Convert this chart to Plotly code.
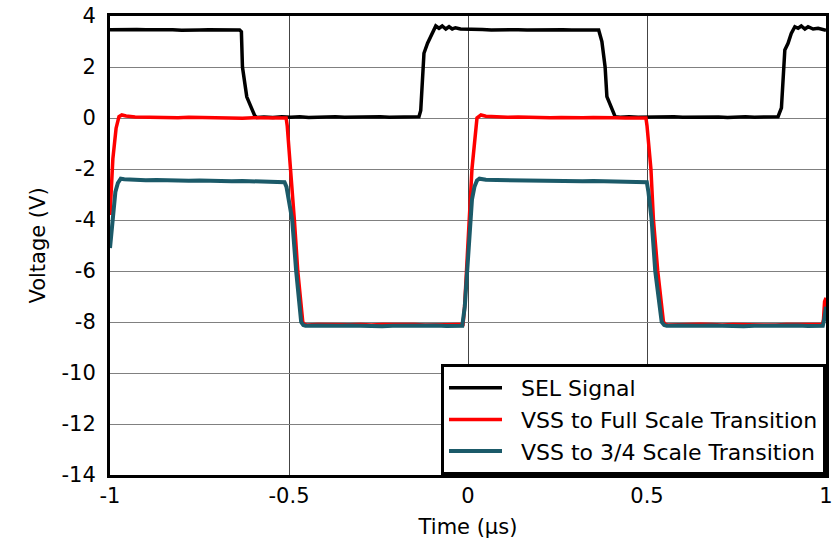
import plotly.graph_objects as go

# Time axis (µs) and tick labels
x_ticks = [-1, -0.5, 0, 0.5, 1]
x_ticklabels = ["-1", "-0.5", "0", "0.5", "1"]
y_ticks = [-14, -12, -10, -8, -6, -4, -2, 0, 2, 4]
y_ticklabels = ["-14", "-12", "-10", "-8", "-6", "-4", "-2", "0", "2", "4"]

series_names = ["SEL Signal", "VSS to Full Scale Transition", "VSS to 3/4 Scale Transition"]

# SEL signal
sel_t = [-1.000, -0.975, -0.950, -0.925, -0.900, -0.875, -0.850, -0.825, -0.800, -0.775,
         -0.750, -0.725, -0.700, -0.675, -0.650, -0.638, -0.633, -0.630, -0.618, -0.610,
         -0.596, -0.590, -0.570, -0.545, -0.520, -0.495, -0.470, -0.445, -0.420, -0.395,
         -0.370, -0.345, -0.320, -0.295, -0.270, -0.245, -0.220, -0.195, -0.170, -0.145,
         -0.137, -0.132, -0.123, -0.113, -0.104, -0.095, -0.090, -0.081, -0.072, -0.062,
         -0.053, -0.044, -0.035, -0.021, -0.007, 0.015, 0.040, 0.065, 0.090, 0.115,
         0.140, 0.165, 0.190, 0.215, 0.240, 0.265, 0.290, 0.315, 0.340, 0.365,
         0.374, 0.383, 0.388, 0.411, 0.425, 0.450, 0.475, 0.500, 0.525, 0.550,
         0.575, 0.600, 0.625, 0.650, 0.675, 0.700, 0.725, 0.750, 0.775, 0.800,
         0.825, 0.850, 0.866, 0.8755, 0.885, 0.894, 0.903, 0.913, 0.922, 0.931,
         0.941, 0.950, 0.964, 0.978, 0.996, 1.000]
sel_v = [3.46, 3.47, 3.45, 3.47, 3.46, 3.47, 3.45, 3.46, 3.44, 3.46,
         3.45, 3.46, 3.45, 3.46, 3.45, 3.45, 3.38, 2.00, 0.83, 0.58,
         0.10, 0.02, 0.04, 0.02, 0.05, 0.03, 0.05, 0.02, 0.04, 0.03,
         0.05, 0.03, 0.04, 0.02, 0.04, 0.05, 0.03, 0.04, 0.05, 0.04,
         0.05, 0.30, 2.54, 2.93, 3.19, 3.52, 3.61, 3.52, 3.61, 3.49,
         3.58, 3.49, 3.54, 3.49, 3.49, 3.46, 3.47, 3.45, 3.46, 3.44,
         3.46, 3.45, 3.46, 3.44, 3.45, 3.46, 3.45, 3.44, 3.46, 3.45,
         3.00, 2.00, 0.84, 0.05, 0.03, 0.05, 0.03, 0.04, 0.02, 0.04,
         0.05, 0.03, 0.04, 0.05, 0.03, 0.04, 0.02, 0.04, 0.05, 0.03,
         0.04, 0.05, 0.05, 0.40, 2.67, 2.93, 3.32, 3.58, 3.52, 3.61,
         3.49, 3.58, 3.49, 3.52, 3.45, 3.44]

# VSS to full scale transition
full_t = [-1.000, -0.992, -0.983, -0.975, -0.967, -0.955, -0.930, -0.900, -0.870, -0.840,
          -0.810, -0.780, -0.750, -0.720, -0.690, -0.660, -0.630, -0.600, -0.570, -0.540,
          -0.508, -0.505, -0.501, -0.494, -0.485, -0.4755, -0.4615, -0.456, -0.450, -0.420,
          -0.390, -0.360, -0.330, -0.300, -0.270, -0.240, -0.210, -0.180, -0.150, -0.120,
          -0.090, -0.060, -0.030, -0.014, -0.010, -0.0036, 0.0028, 0.0111, 0.0251, 0.0362,
          0.050, 0.080, 0.110, 0.140, 0.170, 0.200, 0.230, 0.260, 0.290, 0.320,
          0.350, 0.380, 0.410, 0.440, 0.470, 0.497, 0.500, 0.504, 0.511, 0.518,
          0.530, 0.546, 0.552, 0.558, 0.590, 0.620, 0.650, 0.680, 0.710, 0.740,
          0.770, 0.800, 0.830, 0.860, 0.890, 0.920, 0.950, 0.975, 0.990, 0.993,
          0.996, 1.000]
full_v = [-3.80, -1.60, -0.40, 0.05, 0.12, 0.08, 0.04, 0.03, 0.02, 0.04,
          0.01, 0.03, 0.02, 0.00, 0.02, 0.01, -0.01, 0.01, 0.00, 0.01,
          0.00, -0.30, -1.00, -2.00, -4.00, -6.00, -8.00, -8.10, -8.12, -8.10,
          -8.11, -8.09, -8.11, -8.10, -8.12, -8.10, -8.09, -8.11, -8.10, -8.12,
          -8.10, -8.11, -8.10, -8.10, -7.50, -6.00, -4.00, -2.00, 0.00, 0.12,
          0.07, 0.04, 0.03, 0.04, 0.02, 0.03, 0.01, 0.02, 0.00, 0.01,
          0.02, 0.00, 0.01, 0.00, 0.01, 0.00, -0.30, -1.00, -2.00, -4.00,
          -6.00, -8.00, -8.10, -8.12, -8.10, -8.11, -8.09, -8.10, -8.12, -8.10,
          -8.11, -8.09, -8.10, -8.12, -8.10, -8.11, -8.10, -8.10, -8.10, -7.90,
          -7.20, -7.05]

# VSS to 3/4 scale transition
tq_t = [-1.000, -0.995, -0.990, -0.985, -0.978, -0.970, -0.960, -0.930, -0.900, -0.870,
        -0.840, -0.810, -0.780, -0.750, -0.720, -0.690, -0.660, -0.630, -0.600, -0.570,
        -0.540, -0.5125, -0.507, -0.500, -0.491, -0.480, -0.466, -0.460, -0.454, -0.420,
        -0.390, -0.360, -0.330, -0.300, -0.270, -0.240, -0.210, -0.180, -0.150, -0.120,
        -0.090, -0.060, -0.030, -0.016, -0.009, -0.002, 0.0075, 0.0111, 0.018, 0.025,
        0.032, 0.050, 0.080, 0.110, 0.140, 0.170, 0.200, 0.230, 0.260, 0.290,
        0.320, 0.350, 0.380, 0.410, 0.440, 0.470, 0.4995, 0.504, 0.508, 0.513,
        0.523, 0.541, 0.548, 0.555, 0.590, 0.620, 0.650, 0.680, 0.710, 0.740,
        0.770, 0.800, 0.830, 0.860, 0.890, 0.920, 0.950, 0.975, 0.991, 0.995,
        1.000]
tq_v = [-5.10, -4.20, -3.40, -2.90, -2.55, -2.38, -2.40, -2.43, -2.44, -2.43,
        -2.45, -2.44, -2.46, -2.45, -2.47, -2.46, -2.48, -2.47, -2.49, -2.48,
        -2.50, -2.52, -2.70, -3.20, -4.00, -6.00, -8.00, -8.12, -8.15, -8.14,
        -8.16, -8.15, -8.14, -8.16, -8.15, -8.17, -8.15, -8.14, -8.16, -8.15,
        -8.14, -8.16, -8.15, -8.15, -7.40, -6.00, -4.00, -3.20, -2.70, -2.45,
        -2.38, -2.42, -2.43, -2.44, -2.43, -2.45, -2.46, -2.45, -2.47, -2.46,
        -2.48, -2.47, -2.49, -2.48, -2.50, -2.51, -2.52, -2.90, -3.40, -4.00,
        -6.00, -8.00, -8.12, -8.15, -8.14, -8.16, -8.15, -8.14, -8.16, -8.15,
        -8.17, -8.15, -8.14, -8.16, -8.15, -8.14, -8.16, -8.15, -8.15, -7.90,
        -7.40]

colors = ["#000000", "#ff0000", "#1b5a69"]
FONT = "DejaVu Sans"
NB = "\u00a0\u00a0"

fig = go.Figure()
fig.add_trace(go.Scatter(x=sel_t, y=sel_v, mode="lines", name=NB + series_names[0],
                         line=dict(color=colors[0], width=3.5)))
fig.add_trace(go.Scatter(x=full_t, y=full_v, mode="lines", name=NB + series_names[1],
                         line=dict(color=colors[1], width=3.5)))
fig.add_trace(go.Scatter(x=tq_t, y=tq_v, mode="lines", name=NB + series_names[2],
                         line=dict(color=colors[2], width=4)))

fig.update_layout(
    width=833, height=546,
    margin=dict(l=110, r=7, t=16, b=71),
    plot_bgcolor="white", paper_bgcolor="white",
    font=dict(family=FONT, size=21, color="black"),
    showlegend=True,
    hovermode=False,
    legend=dict(x=1, xanchor="right", y=0, yanchor="bottom",
                bgcolor="white", bordercolor="black", borderwidth=3,
                font=dict(family=FONT, size=22, color="black"),
                itemwidth=53, tracegroupgap=0),
    xaxis=dict(range=[-1, 1], tickvals=x_ticks, ticktext=x_ticklabels,
               showgrid=True, gridcolor="#444444", gridwidth=1,
               zeroline=False, showline=True, linecolor="black", linewidth=3,
               mirror=True, ticks="", automargin=False, ticklabeloverflow="allow",
               title=dict(text="Time (µs)", standoff=13,
                          font=dict(family=FONT, size=21))),
    yaxis=dict(range=[-14, 4], tickvals=y_ticks, ticktext=y_ticklabels,
               showgrid=True, gridcolor="#808080", gridwidth=1,
               zeroline=False, showline=True, linecolor="black", linewidth=3,
               mirror=True, ticks="", automargin=False, ticklabelstandoff=7,
               ticklabeloverflow="allow",
               title=dict(text="Voltage (V)", standoff=11,
                          font=dict(family=FONT, size=21))),
)

# Remove the default 8 px page margin so the figure fills the window exactly.
fig.write_html("out.html",
               config={"displayModeBar": False},
               post_script="document.body.style.margin='0';"
                           "document.body.style.overflow='hidden';")
